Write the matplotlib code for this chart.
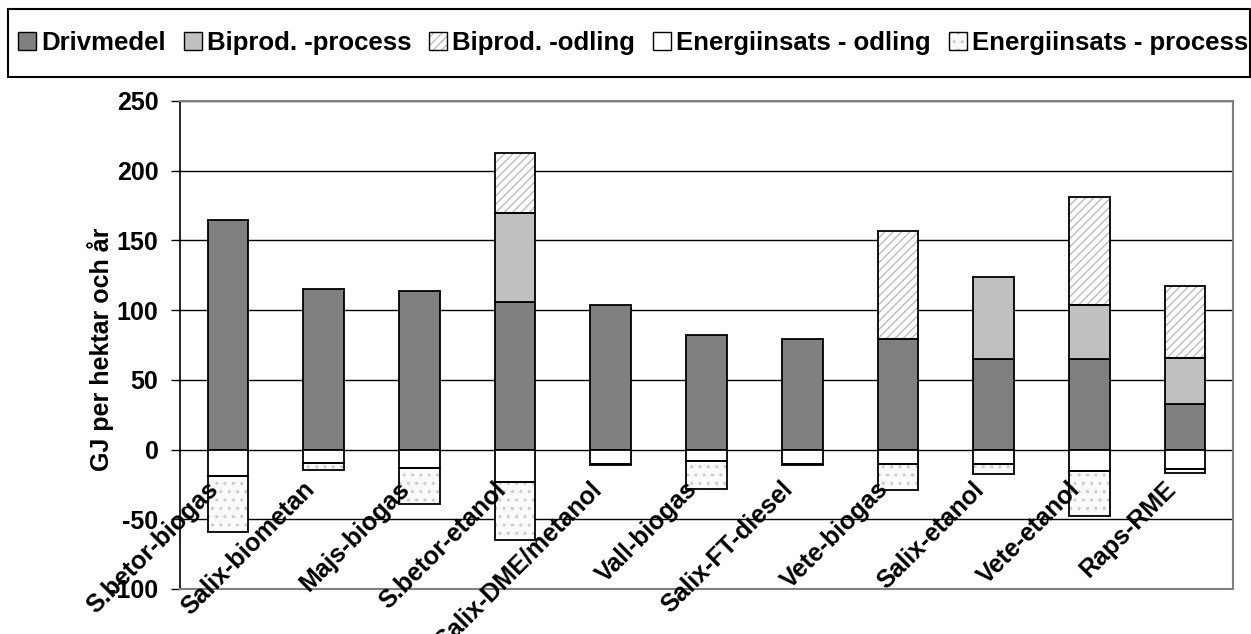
import matplotlib
matplotlib.use('Agg')
import matplotlib.pyplot as plt
import numpy as np
from matplotlib.patches import Patch, Rectangle
from matplotlib.transforms import offset_copy
from matplotlib.legend_handler import HandlerTuple

categories = ['S.betor-biogas', 'Salix-biometan', 'Majs-biogas', 'S.betor-etanol',
              'Salix-DME/metanol', 'Vall-biogas', 'Salix-FT-diesel', 'Vete-biogas',
              'Salix-etanol', 'Vete-etanol', 'Raps-RME']
drivmedel = [165, 115, 114, 106, 104, 82, 79, 79, 65, 65, 33]
biprod_process = [0, 0, 0, 64, 0, 0, 0, 0, 59, 39, 33]
biprod_odling = [0, 0, 0, 43, 0, 0, 0, 78, 0, 77, 51]
energi_odling = [-19, -9.5, -13, -23, -10.5, -8.5, -10.5, -10, -10, -15.5, -14]
energi_process = [-40, -5, -26, -42, -0.8, -20, -0.8, -19, -7.5, -32, -3]
series_labels = ['Drivmedel', 'Biprod. -process', 'Biprod. -odling',
                 'Energiinsats - odling', 'Energiinsats - process']
yticks = [-100, -50, 0, 50, 100, 150, 200, 250]
ylabel = 'GJ per hektar och år'

plt.rcParams['font.family'] = ['Liberation Sans', 'DejaVu Sans']
plt.rcParams['font.weight'] = 'bold'
plt.rcParams['hatch.linewidth'] = 1.0

W, H = 1251, 634
FS = 18
fig = plt.figure(figsize=(W / 100, H / 100), dpi=100)
ax = fig.add_axes([180 / W, 45 / H, 1053 / W, 488 / H])

x = np.arange(len(categories))
bw = 0.424
EDGE = 1.3
HATCH_GRAY = '#BDBDBD'
DOT_GRAY = '#CCCCCC'


def draw(vals, bottoms, face, hatch=None, hcol=None):
    vals = np.asarray(vals, float)
    bottoms = np.asarray(bottoms, float)
    m = vals != 0
    if hatch:
        ax.bar(x[m], vals[m], bw, bottom=bottoms[m], color=face, edgecolor=hcol,
               hatch=hatch, linewidth=0, zorder=2)
        ax.bar(x[m], vals[m], bw, bottom=bottoms[m], fill=False, edgecolor='black',
               linewidth=EDGE, zorder=3)
    else:
        ax.bar(x[m], vals[m], bw, bottom=bottoms[m], color=face, edgecolor='black',
               linewidth=EDGE, zorder=3)


d = np.array(drivmedel, float)
bp = np.array(biprod_process, float)
bo = np.array(biprod_odling, float)
eo = np.array(energi_odling, float)
ep = np.array(energi_process, float)

draw(d, np.zeros_like(d), '#808080')
draw(bp, d, '#C0C0C0')
draw(bo, d + bp, 'white', '////', HATCH_GRAY)
draw(eo, np.zeros_like(eo), 'white')
draw(ep, eo, '#FBFBFB', '..', DOT_GRAY)

ax.set_xlim(-0.5, len(categories) - 0.5)
ax.set_ylim(-100, 250)
ax.set_yticks(yticks)
ax.set_yticklabels([str(t) for t in yticks], fontsize=FS, fontweight='bold')
ax.tick_params(axis='y', length=6.5, width=1.0, pad=9, direction='out')
ax.set_xticks([])
ax.yaxis.grid(True, color='black', linewidth=1.0)
ax.set_axisbelow(True)
for s in ['top', 'right', 'bottom']:
    ax.spines[s].set_color('#808080')
    ax.spines[s].set_linewidth(1.5)
ax.spines['left'].set_color('black')
ax.spines['left'].set_linewidth(1.2)

trans = offset_copy(ax.transData, fig=fig, x=-8, y=-41, units='dots')
for xi, lab in zip(x, categories):
    ax.text(xi, 0, lab, rotation=45, ha='right', va='baseline', rotation_mode='anchor',
            transform=trans, fontsize=FS, fontweight='bold', clip_on=False)

fig.text(101 / W, 1 - 349 / H, ylabel, rotation=90, ha='center', va='center',
         fontsize=FS, fontweight='bold')

handles = [
    Patch(facecolor='#808080', edgecolor='black', linewidth=1),
    Patch(facecolor='#C0C0C0', edgecolor='black', linewidth=1),
    (Patch(facecolor='white', edgecolor=HATCH_GRAY, hatch='////', linewidth=0),
     Patch(fill=False, edgecolor='black', linewidth=1)),
    Patch(facecolor='white', edgecolor='black', linewidth=1),
    (Patch(facecolor='#FBFBFB', edgecolor=DOT_GRAY, hatch='..', linewidth=0),
     Patch(fill=False, edgecolor='black', linewidth=1)),
]
leg = fig.legend(handles, series_labels, loc='center', mode='expand',
                 bbox_to_anchor=(18 / W, 1 - 77 / H, 1230 / W, 68 / H), ncol=5,
                 fontsize=18.5, handlelength=0.7, handleheight=0.7, handletextpad=0.2,
                 columnspacing=0.5, borderpad=0, borderaxespad=0, frameon=False,
                 handler_map={tuple: HandlerTuple(ndivide=1)})
fig.add_artist(Rectangle((8 / W, 1 - 77 / H), 1242 / W, 68 / H,
                         transform=fig.transFigure, fill=False,
                         edgecolor='black', linewidth=1.5))

fig.savefig('out.png', dpi=100)
